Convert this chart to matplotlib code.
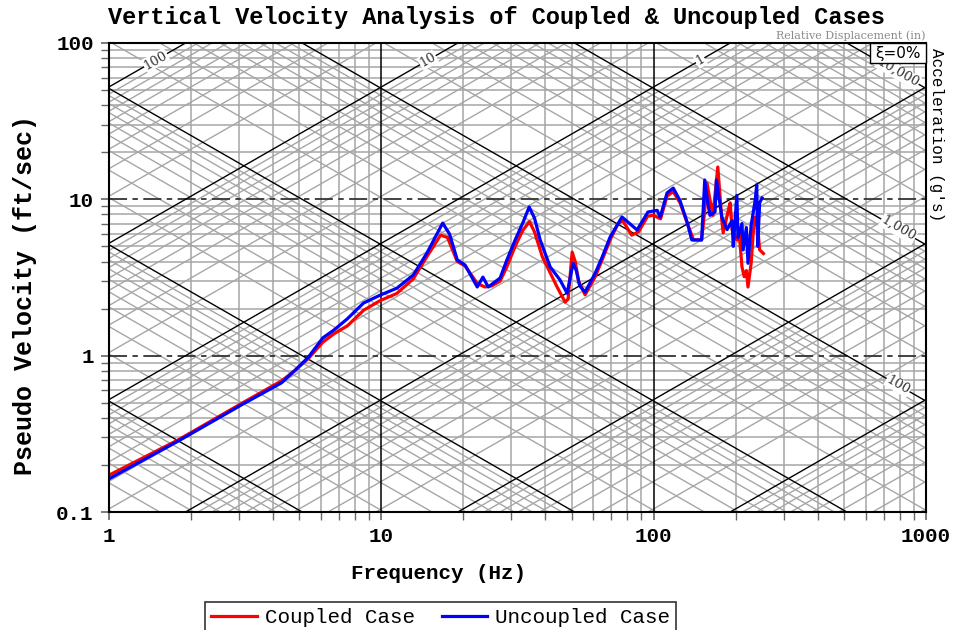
import numpy as np
import matplotlib
matplotlib.use("Agg")
import matplotlib.pyplot as plt
from matplotlib.patches import Rectangle
from matplotlib.lines import Line2D

# ---------------- data ----------------
f_coupled = [1.0, 1.8, 3.1, 4.3, 4.8, 5.4, 6.1, 6.7, 7.5, 8.6, 9.9, 11.4, 13.1, 14.7, 16.5, 17.5,
             19.0, 20.3, 22.5, 24.0, 25.5, 27.3, 28.9, 31.0, 33.0, 35.0, 36.5, 39.0, 42.0, 44.2,
             47.3, 48.5, 50.2, 51.5, 53.0, 56.0, 61.0, 64.7, 69.2, 74.0, 77.0, 83.0, 88.0, 95.0,
             100, 106, 112, 118, 125, 133, 140, 150, 154, 157, 161, 165, 172, 178, 180, 188, 191,
             194, 202, 206, 211, 215, 219, 222, 228, 232, 236, 241, 245, 253]
v_coupled = [0.172, 0.29, 0.50, 0.69, 0.80, 0.96, 1.22, 1.38, 1.55, 1.95, 2.25, 2.50, 3.1, 4.3, 5.9, 5.7,
             4.0, 3.75, 2.9, 2.75, 2.8, 3.0, 3.7, 5.0, 6.3, 7.2, 6.2, 4.3, 3.3, 2.75,
             2.2, 2.3, 4.6, 4.0, 3.0, 2.45, 3.2, 4.1, 5.5, 7.0, 7.3, 5.9, 6.2, 7.8,
             7.9, 7.5, 10.5, 11.2, 9.5, 7.0, 5.5, 5.5, 8.5, 12.7, 9.9, 7.9, 16.1, 7.3, 6.1, 8.5, 9.5,
             6.4, 5.5, 6.1, 3.7, 3.2, 3.5, 2.75, 3.9, 6.1, 7.7, 6.6, 4.75, 4.5]

f_uncoupled = [1.0, 1.8, 3.1, 4.3, 4.8, 5.4, 6.1, 6.7, 7.5, 8.6, 9.9, 11.4, 13.1, 14.7, 16.8, 17.8,
               19.0, 20.3, 22.5, 23.6, 24.7, 27.3, 28.9, 31.0, 33.0, 34.9, 36.5, 38.3, 41.7, 45.3,
               48.1, 50.6, 52.0, 53.5, 56.0, 61.0, 64.7, 69.2, 76.5, 80.4, 86.9, 95.3, 103, 105.7,
               112, 118, 125, 133, 138, 150, 154, 158, 161, 168, 170, 178, 186, 194, 196, 202, 204,
               211, 213, 219, 222, 228, 236, 239, 241, 245, 250]
v_uncoupled = [0.163, 0.285, 0.49, 0.67, 0.80, 0.98, 1.30, 1.46, 1.72, 2.17, 2.44, 2.70, 3.28, 4.53, 7.05, 6.0,
               4.1, 3.8, 2.75, 3.18, 2.75, 3.14, 4.09, 5.5, 7.0, 8.93, 7.6, 5.5, 3.69, 3.05,
               2.51, 3.9, 3.5, 2.8, 2.55, 3.37, 4.27, 5.74, 7.71, 7.16, 6.37, 8.3, 8.5, 7.7,
               11.0, 11.8, 9.8, 7.05, 5.5, 5.5, 13.3, 9.5, 7.9, 8.3, 13.3, 7.7, 6.4, 7.3, 5.0, 10.6, 5.7,
               7.0, 4.75, 6.6, 3.9, 6.8, 9.9, 12.4, 5.0, 9.5, 10.2]

x_ticks = [1, 10, 100, 1000]
x_ticklabels = ["1", "10", "100", "1000"]
y_ticks = [0.1, 1, 10, 100]
y_ticklabels = ["0.1", "1", "10", "100"]
disp_labels = {100: "100", 10: "10", 1: "1"}          # inches
accel_labels = {10000: "10,000", 1000: "1,000", 100: "100"}  # g's

MONO = 'Liberation Mono'

# ---------------- figure ----------------
fig = plt.figure(figsize=(9.62, 6.3), dpi=100)
ax = fig.add_axes([109/962, 1-512/630, 817/962, 469/630])
ax.set_xscale('log')
ax.set_yscale('log')
FMIN, FMAX, VMIN, VMAX = 1, 1000, 0.1, 100
ax.set_xlim(FMIN, FMAX)
ax.set_ylim(VMIN, VMAX)

GRAY = '#a6a6a6'
fx = np.array([FMIN, FMAX], dtype=float)

# vertical and horizontal grid
for n in range(0, 3):
    for k in range(1, 10):
        f = k * 10**n
        if FMIN < f < FMAX:
            if k == 1:
                ax.axvline(f, color='black', lw=1.1, zorder=2)
            else:
                ax.axvline(f, color=GRAY, lw=1.1, zorder=1)
for n in range(-1, 2):
    for k in range(1, 10):
        v = k * 10.0**n
        if VMIN < v < VMAX:
            if k == 1:
                ax.axhline(v, color='#333333', lw=1.3, ls=(0, (10, 3, 3, 3)), zorder=2)
            else:
                ax.axhline(v, color=GRAY, lw=1.1, zorder=1)

# displacement lines (inches): v[ft/s] = 2*pi*f*d/12
for n in range(-5, 4):
    for k in range(1, 10):
        d = k * 10.0**n
        vv = 2*np.pi*fx*d/12
        if k == 1:
            ax.plot(fx, vv, color='black', lw=1.0, zorder=2)
        else:
            ax.plot(fx, vv, color=GRAY, lw=1.0, zorder=1)
# acceleration lines (g): v[ft/s] = a*386.09/(2*pi*f)/12
for n in range(-3, 6):
    for k in range(1, 10):
        a = k * 10.0**n
        vv = a*386.09/(2*np.pi*fx)/12
        if k == 1:
            ax.plot(fx, vv, color='black', lw=1.0, zorder=2)
        else:
            ax.plot(fx, vv, color=GRAY, lw=1.0, zorder=1)

ANG = np.degrees(np.arctan(156.3/272.3))
lab_kw = dict(fontsize=9.5, family='DejaVu Serif', color='#333333', ha='center', va='center',
              rotation_mode='anchor', zorder=3,
              bbox=dict(facecolor='white', edgecolor='none', pad=0.5))
for d, lab in disp_labels.items():
    vlab = 80.0
    flab = vlab*12/(2*np.pi*d) * 0.97
    ax.text(flab, 2*np.pi*flab*d/12, lab, rotation=ANG, **lab_kw)
for a, lab in accel_labels.items():
    flab = 790.0
    ax.text(flab, a*386.09/(2*np.pi*flab)/12, lab, rotation=-ANG, **lab_kw)

# data
ax.plot(f_coupled, v_coupled, color='#ff0000', lw=2.3, zorder=5, label='Coupled Case')
ax.plot(f_uncoupled, v_uncoupled, color='#0000ff', lw=2.3, zorder=6, label='Uncoupled Case')

# damping box
ax.add_patch(Rectangle((0.931, 0.957), 0.069, 0.043, transform=ax.transAxes,
                       facecolor='white', edgecolor='black', lw=1.0, zorder=8, clip_on=False))
ax.text(0.9655, 0.978, 'ξ=0%', transform=ax.transAxes, ha='center', va='center',
        fontsize=11, zorder=9)

# axes styling
for s in ax.spines.values():
    s.set_linewidth(1.5)
    s.set_zorder(7)
ax.set_xticks(x_ticks)
ax.set_xticklabels(x_ticklabels)
ax.set_yticks(y_ticks)
ax.set_yticklabels(y_ticklabels)
ax.tick_params(which='both', direction='out', color='#666666')
ax.tick_params(which='major', length=6, width=1.2, labelsize=15, pad=5)
ax.tick_params(which='minor', length=6, width=1.0, labelleft=False, labelbottom=False)
for lbl in ax.get_xticklabels() + ax.get_yticklabels():
    lbl.set_fontweight('bold')
    lbl.set_family(MONO)

fig.text(0.516, 0.973, 'Vertical Velocity Analysis of Coupled & Uncoupled Cases',
         ha='center', va='center', fontsize=17, fontweight='bold', family=MONO)
fig.text(0.962, 0.944, 'Relative Displacement (in)', ha='right', va='center',
         fontsize=8, color='#8a8a8a', family='DejaVu Serif')
fig.text(0.974, 0.787, "Acceleration (g's)", ha='center', va='center', rotation=-90,
         fontsize=11.5, family=MONO)
fig.text(0.026, 0.532, 'Pseudo Velocity (ft/sec)', ha='center', va='center', rotation=90,
         fontsize=18, fontweight='bold', family=MONO)
fig.text(0.456, 0.090, 'Frequency (Hz)', ha='center', va='center',
         fontsize=15, fontweight='bold', family=MONO)

handles = [Line2D([], [], color='#ff0000', lw=2.3), Line2D([], [], color='#0000ff', lw=2.3)]
leg = fig.legend(handles, ['Coupled Case', 'Uncoupled Case'], loc='upper center',
                 bbox_to_anchor=(0.458, 1-602/630), ncol=2, frameon=True, fancybox=False,
                 edgecolor='black', prop={'family': MONO, 'size': 15},
                 handlelength=2.2, handletextpad=0.35, columnspacing=1.3, borderpad=0.3,
                 borderaxespad=0.0)
leg.get_frame().set_linewidth(1.2)

fig.savefig('out.png', dpi=100)
